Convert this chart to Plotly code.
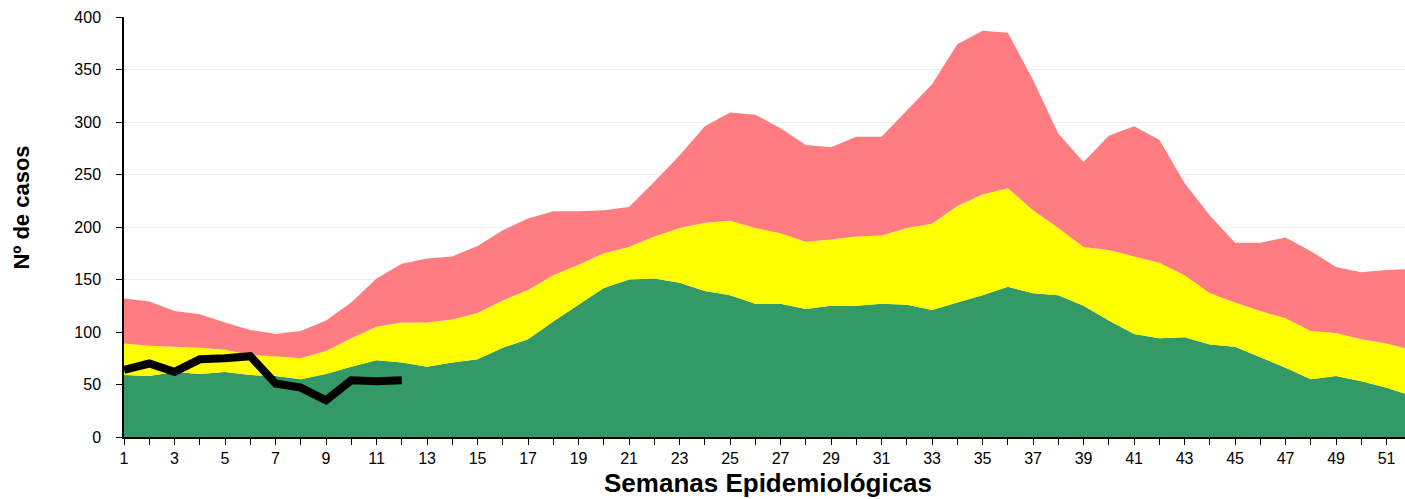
import plotly.graph_objects as go

weeks = list(range(1, 53))

# upper limit of each zone (Nº de casos)
red_top = [132, 129, 120, 117, 109, 102, 98, 101, 111, 128, 151, 165, 170, 172,
           182, 197, 208, 215, 215, 216, 219, 243, 268, 296, 309, 307, 294, 278,
           276, 286, 286, 311, 336, 374, 387, 385, 340, 289, 262, 287, 296, 283,
           242, 211, 185, 185, 190, 177, 162, 157, 159, 160]
yellow_top = [89, 87, 86, 85, 83, 78, 77, 75, 82, 94, 105, 109, 109, 112,
              118, 130, 140, 154, 164, 175, 181, 191, 199, 204, 206, 199, 194, 186,
              188, 191, 192, 199, 203, 220, 231, 237, 216, 199, 181, 178, 172, 166,
              154, 137, 128, 120, 113, 101, 99, 93, 89, 83]
green_top = [59, 58, 62, 60, 62, 59, 58, 55, 60, 67, 73, 71, 67, 71,
             74, 85, 93, 110, 126, 142, 150, 151, 147, 139, 135, 127, 127, 122,
             125, 125, 127, 126, 121, 128, 135, 143, 137, 135, 125, 111, 98, 94,
             95, 88, 86, 76, 66, 55, 58, 53, 47, 39]

current_weeks = list(range(1, 13))
current_cases = [64, 70, 62, 74, 75, 77, 51, 47, 35, 54, 53, 54]

font = "Liberation Sans, Arial, sans-serif"

fig = go.Figure()

fig.add_trace(go.Scatter(x=weeks, y=green_top, mode='none', fill='tozeroy',
                         fillcolor='#339966', hoverinfo='skip'))
fig.add_trace(go.Scatter(x=weeks, y=yellow_top, mode='none', fill='tonexty',
                         fillcolor='#FFFF00', hoverinfo='skip'))
fig.add_trace(go.Scatter(x=weeks, y=red_top, mode='none', fill='tonexty',
                         fillcolor='#FF7C80', hoverinfo='skip'))
fig.add_trace(go.Scatter(x=current_weeks, y=current_cases, mode='lines',
                         line=dict(color='black', width=8)))

fig.update_layout(
    width=1405, height=499,
    margin=dict(l=124, r=0, t=17, b=62),
    plot_bgcolor='white', paper_bgcolor='white',
    showlegend=False,
    font=dict(family=font, color='black', size=16),
)

# axis titles placed as annotations (the original sits off-centre)
fig.add_annotation(text='<b>Semanas Epidemiológicas</b>', font=dict(size=26),
                   xref='paper', yref='paper', x=0.503, y=-0.109,
                   xanchor='center', yanchor='middle', showarrow=False)
fig.add_annotation(text='<b>Nº de casos</b>', font=dict(size=22), textangle=-90,
                   xref='paper', yref='paper', x=-0.08, y=0.545,
                   xanchor='center', yanchor='middle', showarrow=False)

fig.update_xaxes(
    range=[1, 51.73], tick0=1, dtick=2,
    showline=True, linecolor='black', linewidth=1.5,
    ticks='outside', ticklen=6, tickcolor='black',
    minor=dict(dtick=1, tick0=1, ticks='outside', ticklen=6, tickcolor='black'),
    showgrid=False, zeroline=False,
    tickfont=dict(size=16),
)
fig.update_yaxes(
    range=[0, 400], dtick=50,
    showline=True, linecolor='black', linewidth=1.5,
    ticks='outside', ticklen=6, tickcolor='black', ticklabelstandoff=12,
    showgrid=True, gridcolor='#eeeeee', zeroline=False,
    tickfont=dict(size=16),
    layer='below traces',
)

fig.write_html("out.html", config={'displayModeBar': False},
               post_script="document.body.style.margin='0';")
